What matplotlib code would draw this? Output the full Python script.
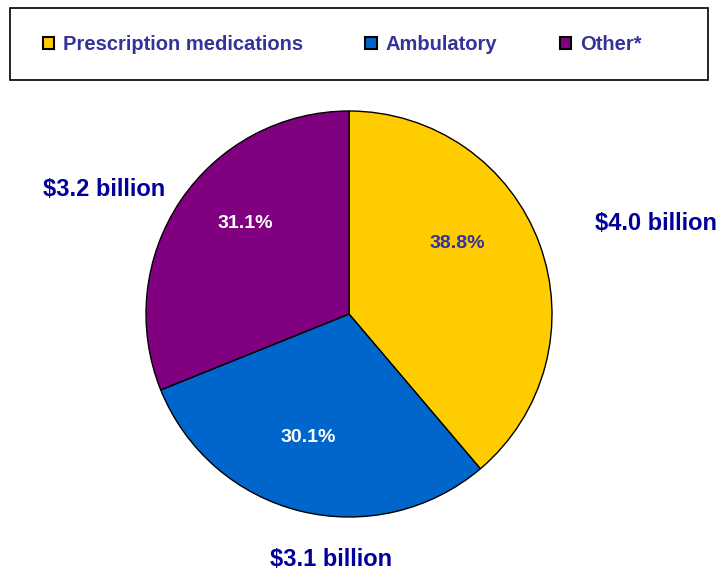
import matplotlib
matplotlib.use("Agg")
import matplotlib.pyplot as plt
from matplotlib.patches import Rectangle

categories = ["Prescription medications", "Ambulatory", "Other*"]
shares = [38.8, 30.1, 31.1]
amounts = ["$4.0 billion", "$3.1 billion", "$3.2 billion"]
colors = ["#FFCC00", "#0066CC", "#800080"]
pct_colors = ["#333399", "white", "white"]

W, H = 721, 572
plt.rcParams["font.family"] = ["Liberation Sans", "DejaVu Sans"]
fig = plt.figure(figsize=(W / 100, H / 100), dpi=100)
ax = fig.add_axes([0, 0, 1, 1])

cx, cy, r = 349, H - 314, 203
wedges, _ = ax.pie(shares, colors=colors, startangle=90, counterclock=False,
                   center=(cx, cy), radius=r, frame=True,
                   wedgeprops=dict(edgecolor="black", linewidth=1.0))
ax.set_xlim(0, W)
ax.set_ylim(0, H)
ax.set_aspect("equal")
ax.axis("off")

pct_pos = [(457, 243), (308, 438), (245, 223)]
amt_pos = [(656, 224), (331, 559), (104, 189)]
for s, c, (px, py) in zip(shares, pct_colors, pct_pos):
    ax.text(px, H - py, f"{s:.1f}%", color=c, fontsize=14, fontweight="bold",
            ha="center", va="center")
for a, (px, py) in zip(amounts, amt_pos):
    ax.text(px, H - py, a, color="#000099", fontsize=17, fontweight="bold",
            ha="center", va="center")

# legend frame
ax.add_patch(Rectangle((10, H - 80), 698, 72, fill=False, edgecolor="black",
                       linewidth=1.2, clip_on=False))
handles = [Rectangle((0, 0), 1, 1, facecolor=c, edgecolor="black", linewidth=1.5)
           for c in colors]
leg = ax.legend(handles, categories, loc="center", bbox_to_anchor=(342 / W, (H - 45) / H),
                bbox_transform=fig.transFigure, ncol=3, frameon=False,
                prop=dict(family="Liberation Sans", weight="bold", size=14.5),
                handlelength=0.55, handleheight=0.55, handletextpad=0.45,
                columnspacing=3.1, borderpad=0)
for t in leg.get_texts():
    t.set_color("#333399")

fig.savefig("out.png", dpi=100)
